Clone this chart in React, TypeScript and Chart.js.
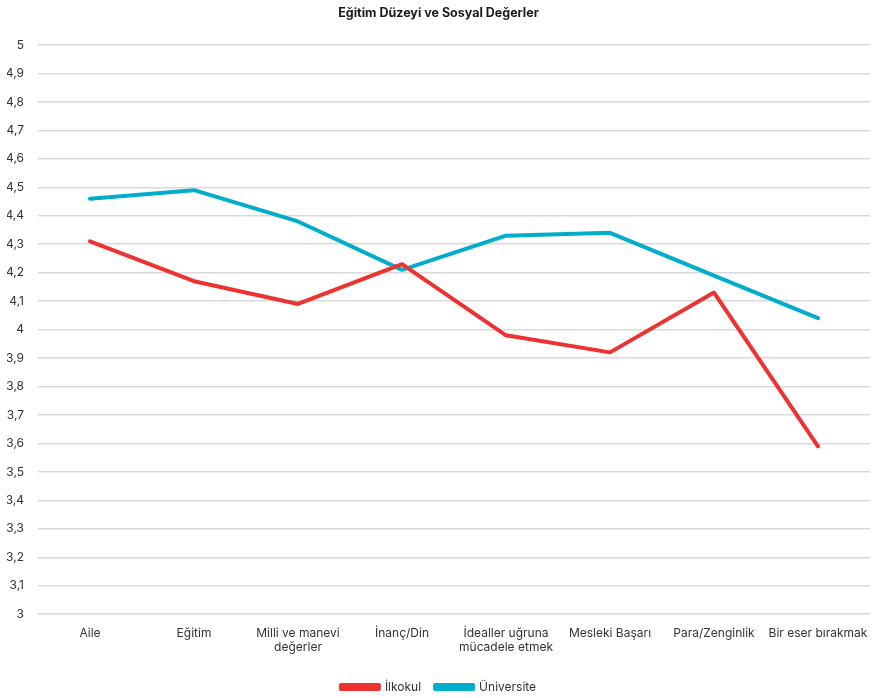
import React, { useEffect, useRef } from "react";
import { Chart, registerables } from "chart.js";

Chart.register(...registerables);

const chartTitle = "Eğitim Düzeyi ve Sosyal Değerler";
const categories: (string | string[])[] = [
  "Aile",
  "Eğitim",
  ["Milli ve manevi", "değerler"],
  "İnanç/Din",
  ["İdealler uğruna", "mücadele etmek"],
  "Mesleki Başarı",
  "Para/Zenginlik",
  "Bir eser bırakmak",
];
const seriesNames = ["İlkokul", "Üniversite"];
const ilkokulValues = [4.31, 4.17, 4.09, 4.23, 3.98, 3.92, 4.13, 3.59];
const universiteValues = [4.46, 4.49, 4.38, 4.21, 4.33, 4.34, 4.19, 4.04];
const yMin = 3;
const yMax = 5;
const yStep = 0.1;

const FONT = "Inter, 'DejaVu Sans', sans-serif";

export default function App() {
  const canvasRef = useRef<HTMLCanvasElement | null>(null);

  useEffect(() => {
    document.body.style.margin = "0";
    const canvas = canvasRef.current;
    if (!canvas) return;
    const chart = new Chart(canvas, {
      type: "line",
      data: {
        labels: categories,
        datasets: [
          {
            label: seriesNames[0],
            data: ilkokulValues,
            borderColor: "#EE3232",
            backgroundColor: "#EE3232",
            borderWidth: 4,
            pointRadius: 0,
            tension: 0,
            borderCapStyle: "round",
            borderJoinStyle: "round",
          },
          {
            label: seriesNames[1],
            data: universiteValues,
            borderColor: "#00AECC",
            backgroundColor: "#00AECC",
            borderWidth: 4,
            pointRadius: 0,
            tension: 0,
            borderCapStyle: "round",
            borderJoinStyle: "round",
          },
        ],
      },
      options: {
        animation: false,
        responsive: false,
        maintainAspectRatio: false,
        layout: { autoPadding: false, padding: { left: 7, right: 5, top: 0, bottom: -5 } },
        plugins: {
          title: {
            display: true,
            text: chartTitle,
            color: "#1a1a1a",
            font: { family: FONT, size: 12.5, weight: "bold" },
            padding: { top: 6, bottom: 24 },
          },
          legend: {
            position: "bottom",
            labels: {
              boxWidth: 38,
              boxHeight: 4,
              color: "#333",
              font: { family: FONT, size: 12 },
              padding: 14,
            },
          },
          tooltip: { enabled: false },
        },
        scales: {
          x: {
            offset: true,
            grid: { display: false, drawTicks: false },
            border: { display: false },
            ticks: {
              color: "#333",
              font: { family: FONT, size: 12 },
              maxRotation: 0,
              autoSkip: false,
              padding: 12,
            },
            afterFit: (axis: any) => {
              axis.paddingLeft = 0;
              axis.paddingRight = 0;
            },
          },
          y: {
            min: yMin,
            max: yMax,
            grid: { color: "#d9d9d9", lineWidth: 1.5, drawTicks: false },
            border: { display: false },
            ticks: {
              stepSize: yStep,
              color: "#333",
              font: { family: FONT, size: 12 },
              padding: 14,
              callback: (v: any) => {
                const r = Math.round(Number(v) * 10) / 10;
                return String(r).replace(".", ",");
              },
            },
            afterFit: (axis: any) => {
              axis.width = 31;
            },
          },
        },
      },
    });
    return () => chart.destroy();
  }, []);

  return (
    <div style={{ position: "absolute", left: 0, top: 0, width: 875, height: 698 }}>
      <canvas ref={canvasRef} width={875} height={698} style={{ width: 875, height: 698 }} />
    </div>
  );
}
